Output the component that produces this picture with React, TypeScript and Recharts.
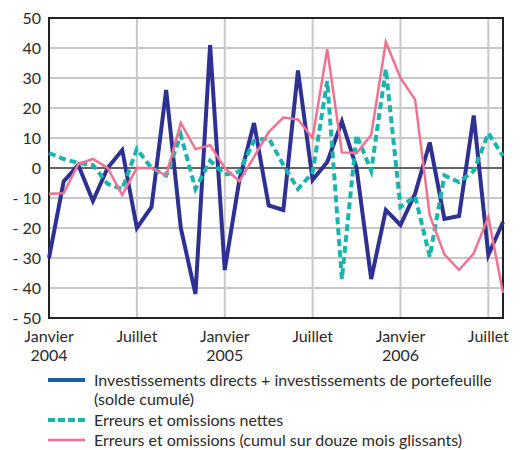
import React from 'react';
import {
  LineChart,
  Line,
  XAxis,
  YAxis,
  CartesianGrid,
  ReferenceLine,
  ReferenceArea,
} from 'recharts';

// mois de janvier 2004 à août 2006
const months = [
  '2004-01', '2004-02', '2004-03', '2004-04', '2004-05', '2004-06',
  '2004-07', '2004-08', '2004-09', '2004-10', '2004-11', '2004-12',
  '2005-01', '2005-02', '2005-03', '2005-04', '2005-05', '2005-06',
  '2005-07', '2005-08', '2005-09', '2005-10', '2005-11', '2005-12',
  '2006-01', '2006-02', '2006-03', '2006-04', '2006-05', '2006-06',
  '2006-07', '2006-08',
];

const investissements = [
  -30, -4.5, 1, -11, 0, 6, -20, -13, 26, -20, -42, 41,
  -34, -4, 15, -12.5, -14, 32.5, -4, 2, 15.5, 0, -37, -14,
  -19, -8.5, 8.5, -17, -16, 17.5, -29, -18,
];

const erreursNettes = [
  5, 3, 1.7, 1, -5.3, -7, 6.3, 0, -2.5, 11, -7, 2.4,
  -2.2, -1.2, 9, 10, 1, -7, -1.5, 29, -37, 11, -1, 33,
  -13, -9.4, -29.6, -2.5, -4.7, -1, 11.6, 4,
];

const erreursCumul = [
  -8.6, -8.4, 1.3, 3, 0, -9, 0, 0, -2.5, 15, 6.3, 7.6,
  0, -4.4, 3.7, 12, 16.8, 16.2, 10, 39.6, 5.2, 5, 11, 42,
  30, 22.8, -15.8, -28.8, -34, -28.5, -16.3, -41.7,
];

const xTicks = ['2004-01', '2004-07', '2005-01', '2005-07', '2006-01', '2006-07'];
const xTickLabels: Record<string, [string, string]> = {
  '2004-01': ['Janvier', '2004'],
  '2004-07': ['Juillet', ''],
  '2005-01': ['Janvier', '2005'],
  '2005-07': ['Juillet', ''],
  '2006-01': ['Janvier', '2006'],
  '2006-07': ['Juillet', ''],
};
const yTicks = [-50, -40, -30, -20, -10, 0, 10, 20, 30, 40, 50];

const legendItems = [
  { label: ['Investissements directs + investissements de portefeuille', '(solde cumulé)'], color: '#1f5ca8', dash: false, width: 4 },
  { label: ['Erreurs et omissions nettes'], color: '#1ab3ad', dash: true, width: 4 },
  { label: ['Erreurs et omissions (cumul sur douze mois glissants)'], color: '#f07291', dash: false, width: 2.5 },
];

const data = months.map((m, i) => ({
  mois: m,
  inv: investissements[i],
  nettes: erreursNettes[i],
  cumul: erreursCumul[i],
}));

const FONT = 'Lato, "Open Sans", sans-serif';
const TEXT = '#2b2b2b';

function MonthTick(props: any) {
  const { x, y, payload } = props;
  const lines = xTickLabels[payload.value] || ['', ''];
  return (
    <g transform={`translate(${x},${y})`}>
      <text textAnchor="middle" fontSize={16} fill={TEXT} fontFamily={FONT}>
        <tspan x={0} dy={16}>{lines[0]}</tspan>
        <tspan x={0} dy={19}>{lines[1]}</tspan>
      </text>
    </g>
  );
}

export default function App() {
  return (
    <div style={{ position: 'absolute', top: 0, left: 0, width: 523, height: 450, background: '#fff', fontFamily: FONT }}>
      <LineChart
        width={523}
        height={370}
        data={data}
        margin={{ top: 18, right: 20, left: 0, bottom: 5 }}
      >
        <CartesianGrid stroke="#c8c8c8" strokeWidth={2} />
        <XAxis
          dataKey="mois"
          ticks={xTicks}
          interval={0}
          tick={<MonthTick />}
          tickLine={false}
          axisLine={false}
          height={47}
        />
        <YAxis
          domain={[-50, 50]}
          ticks={yTicks}
          interval={0}
          width={49}
          tickLine={false}
          axisLine={false}
          tickFormatter={(v: number) => (v < 0 ? `- ${-v}` : String(v))}
          tick={{ fontSize: 16, fill: TEXT, fontFamily: FONT }}
        />
        <ReferenceLine y={0} stroke="#444" strokeWidth={1.5} />
        <Line
          dataKey="inv"
          stroke="#2e3192"
          strokeWidth={4}
          dot={false}
          isAnimationActive={false}
        />
        <Line
          dataKey="nettes"
          stroke="#1ab3ad"
          strokeWidth={4}
          strokeDasharray="7 4"
          dot={false}
          isAnimationActive={false}
        />
        <Line
          dataKey="cumul"
          stroke="#f07291"
          strokeWidth={2.5}
          dot={false}
          isAnimationActive={false}
        />
        <ReferenceArea
          x1={months[0]}
          x2={months[months.length - 1]}
          y1={-50}
          y2={50}
          fill="none"
          fillOpacity={0}
          stroke="#222"
          strokeWidth={2}
        />
      </LineChart>
      {legendItems.map((item, i) => (
        <div
          key={i}
          style={{
            position: 'absolute',
            left: 47,
            top: [370, 410, 430][i],
            display: 'flex',
            alignItems: 'flex-start',
            fontSize: 16,
            lineHeight: '19px',
            color: TEXT,
          }}
        >
          <svg width={40} height={19} style={{ marginRight: 7, flex: 'none' }}>
            <line
              x1={1}
              x2={38}
              y1={10}
              y2={10}
              stroke={item.color}
              strokeWidth={item.width}
              strokeDasharray={item.dash ? '7 3' : undefined}
            />
          </svg>
          <div style={{ whiteSpace: 'nowrap' }}>
            {item.label.map((l, j) => (
              <div key={j}>{l}</div>
            ))}
          </div>
        </div>
      ))}
    </div>
  );
}
